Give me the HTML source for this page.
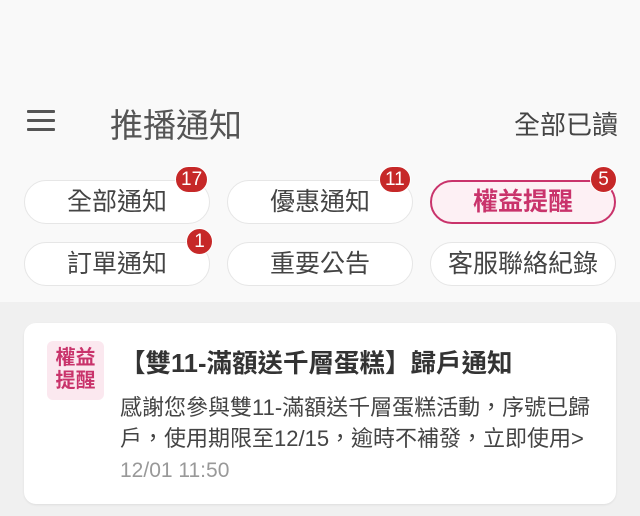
<!DOCTYPE html>
<html><head><meta charset="utf-8"><style>
*{margin:0;padding:0;box-sizing:border-box}
body{width:640px;height:516px;overflow:hidden;background:#f0f0f0;font-family:"Liberation Sans","Noto Sans CJK TC",sans-serif;position:relative}
.top{position:absolute;left:0;top:0;width:640px;height:302px;background:#f9f9f9}
.ham{position:absolute;left:27px;width:28px;height:3px;background:#555;border-radius:1px}
.title{position:absolute;left:110px;top:99px;font-size:33px;color:#555}
.read{position:absolute;right:22px;top:105px;font-size:26px;color:#444}
.pill{position:absolute;width:186px;height:44px;border-radius:22px;background:#fff;border:1px solid #e6e6e6;font-size:25px;color:#444;text-align:center;line-height:42px}
.pill.act{border:2px solid #c9336b;background:#fdf0f4;color:#c9336b;font-weight:bold;line-height:40px}
.b{position:absolute;height:27px;min-width:27px;border-radius:14px;background:#c62828;color:#fff;font-size:19px;text-align:center;line-height:26px;padding:0 5px;border:1px solid #fff}
.card{position:absolute;left:24px;top:323px;width:592px;height:181px;background:#fff;border-radius:12px;box-shadow:0 1px 2px rgba(0,0,0,.08)}
.tag{position:absolute;left:47px;top:341px;width:57px;height:59px;background:#fbe8ef;border-radius:6px;color:#c9336b;font-size:20px;font-weight:bold;line-height:23px;text-align:center;padding-top:6px}
.t{position:absolute;left:120px;top:343px;font-size:25.5px;font-weight:bold;color:#333}
.bd{position:absolute;left:120px;font-size:22px;color:#444;white-space:nowrap}
.d{position:absolute;left:120px;top:459px;font-size:21px;color:#999}
</style></head><body>
<div class="top"></div>
<div class="ham" style="top:110px"></div><div class="ham" style="top:119px"></div><div class="ham" style="top:128px"></div>
<div class="title">推播通知</div>
<div class="read">全部已讀</div>
<div class="pill" style="left:24px;top:180px">全部通知</div>
<div class="pill" style="left:227px;top:180px">優惠通知</div>
<div class="pill act" style="left:430px;top:180px">權益提醒</div>
<div class="pill" style="left:24px;top:242px">訂單通知</div>
<div class="pill" style="left:227px;top:242px">重要公告</div>
<div class="pill" style="left:430px;top:242px">客服聯絡紀錄</div>
<div class="b" style="left:175px;top:166px">17</div>
<div class="b" style="left:379px;top:166px">11</div>
<div class="b" style="left:590px;top:166px">5</div>
<div class="b" style="left:186px;top:228px">1</div>
<div class="card"></div>
<div class="tag">權益<br>提醒</div>
<div class="t">【雙11-滿額送千層蛋糕】歸戶通知</div>
<div class="bd" style="top:390px">感謝您參與雙11-滿額送千層蛋糕活動，序號已歸</div>
<div class="bd" style="top:421px">戶，使用期限至12/15，逾時不補發，立即使用&gt;</div>
<div class="d">12/01 11:50</div>
</body></html>
